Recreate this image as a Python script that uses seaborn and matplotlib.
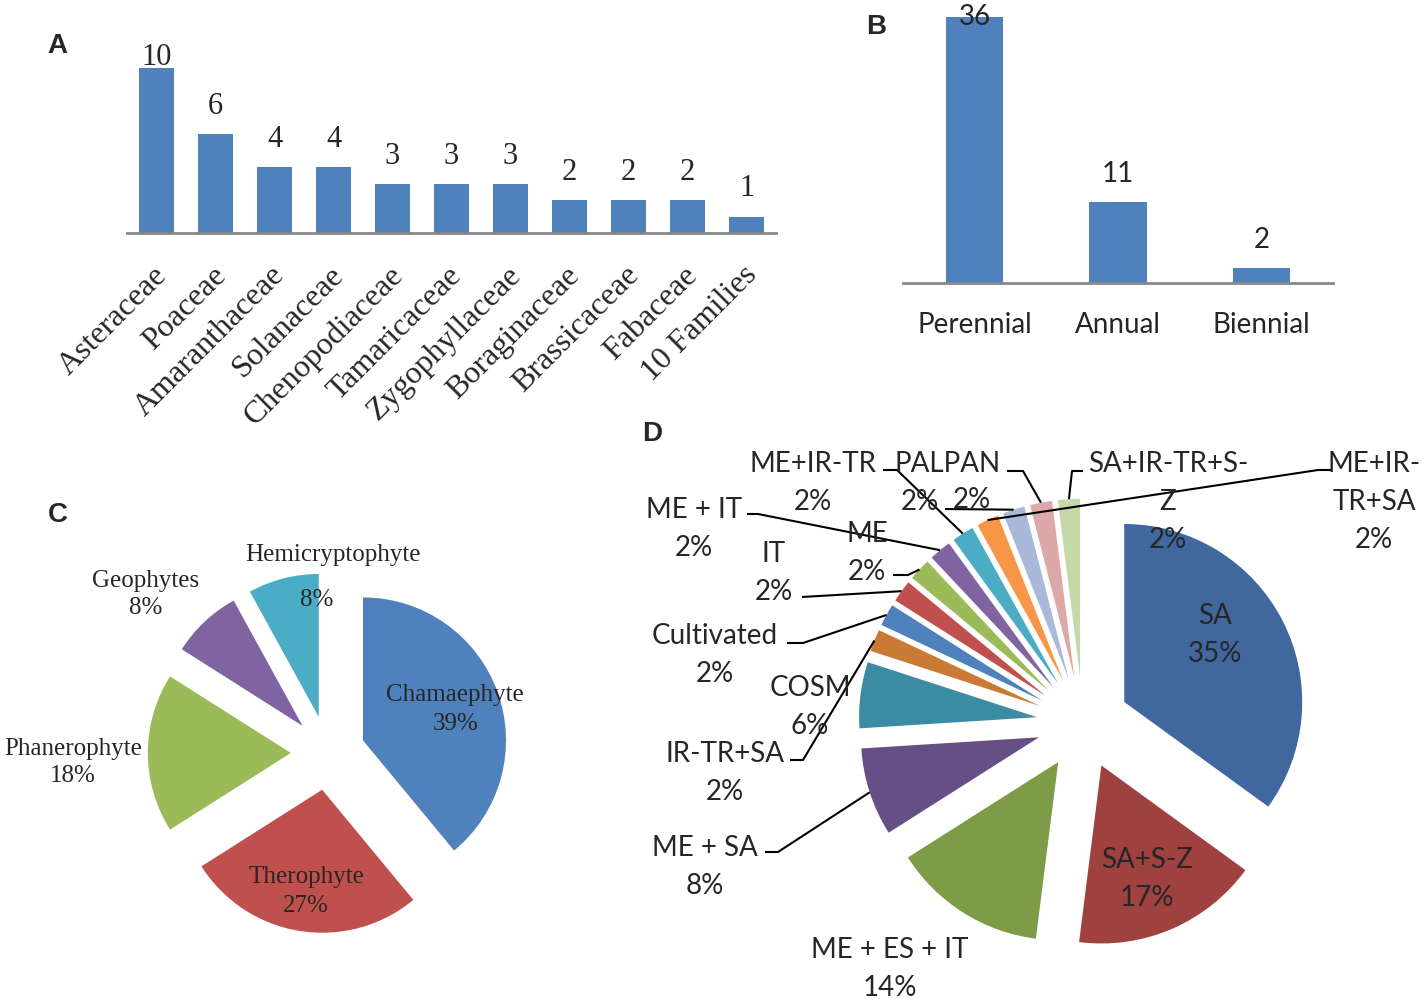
import numpy as np
import matplotlib
matplotlib.use('Agg')
import matplotlib.pyplot as plt
import seaborn as sns

sns.set_style('white')
plt.rcParams['font.family'] = ['Lato', 'DejaVu Sans']

SERIF = ['Liberation Serif', 'DejaVu Serif']
BOLD = ['Liberation Sans', 'DejaVu Sans']
BLUE = '#4F81BD'
AXIS_GREY = '#888888'

# ---- data ----
families = ['Asteraceae', 'Poaceae', 'Amaranthaceae', 'Solanaceae', 'Chenopodiaceae',
            'Tamaricaceae', 'Zygophyllaceae', 'Boraginaceae', 'Brassicaceae', 'Fabaceae',
            '10 Families']
family_counts = [10, 6, 4, 4, 3, 3, 3, 2, 2, 2, 1]

durations = ['Perennial', 'Annual', 'Biennial']
duration_counts = [36, 11, 2]

life_forms = ['Chamaephyte', 'Therophyte', 'Phanerophyte', 'Geophytes', 'Hemicryptophyte']
life_pct = [39, 27, 18, 8, 8]
life_colors = ['#4F81BD', '#C0504D', '#9BBB59', '#8064A2', '#4BACC6']

chorotypes = ['SA', 'SA+S-Z', 'ME + ES + IT', 'ME + SA', 'COSM', 'IR-TR+SA', 'Cultivated',
              'IT', 'ME', 'ME + IT', 'ME+IR-TR', 'ME+IR-TR+SA', '', 'PALPAN', 'SA+IR-TR+S-Z']
chorotype_pct = [35, 17, 14, 8, 6, 2, 2, 2, 2, 2, 2, 2, 2, 2, 2]
chorotype_colors = ['#40689E', '#9E413F', '#7E9B48', '#664F85', '#3B8CA2', '#CB7A36',
                    '#4F81BD', '#C0504D', '#9BBB59', '#8064A2', '#4BACC6', '#F79646',
                    '#A9B9DA', '#DDA9A8', '#C6D7A8']
chorotype_wrap = {'ME+IR-TR+SA': 'ME+IR-\nTR+SA', 'SA+IR-TR+S-Z': 'SA+IR-TR+S-\nZ'}

# ---- layout (pixels of the 1422x999 figure) ----
W, H = 1422, 999
fig = plt.figure(figsize=(W / 100, H / 100), dpi=100)


def rect(left, top, width, height):
    return [left / W, 1 - (top + height) / H, width / W, height / H]


def fxy(px, py):
    return px / W, 1 - py / H


def style_bar_axis(ax):
    sns.despine(ax=ax, left=True)
    ax.spines['bottom'].set_color(AXIS_GREY)
    ax.spines['bottom'].set_linewidth(2)
    ax.set_yticks([])
    ax.set_xlabel('')
    ax.set_ylabel('')
    ax.tick_params(axis='x', length=0)
    ax.patch.set_alpha(0)


def bar_values(ax, vals, ppu, ymax, **kw):
    for i, v in enumerate(vals):
        y = min(v + 20 / ppu, ymax - 20 / ppu)
        ax.text(i, y, str(v), ha='center', va='baseline', **kw)


# ---- A ----
ppuA = 16.5
axA = fig.add_axes(rect(127, 45, 649, 188))
sns.barplot(x=families, y=family_counts, color=BLUE, saturation=1, width=0.6,
            linewidth=0, errorbar=None, ax=axA)
axA.set_ylim(0, 188 / ppuA)
style_bar_axis(axA)
axA.set_xticks([])
bar_values(axA, family_counts, ppuA, 188 / ppuA, family=SERIF, fontsize=22)
for i, name in enumerate(families):
    axA.annotate(name, xy=(i, 0), xytext=(-3, -20), textcoords='offset points',
                 rotation=45, rotation_mode='anchor', ha='right', va='top',
                 family=SERIF, fontsize=23)

# ---- B ----
ppuB = 7.39
axB = fig.add_axes(rect(903, 5, 430, 278))
sns.barplot(x=durations, y=duration_counts, color=BLUE, saturation=1, width=0.4,
            linewidth=0, errorbar=None, ax=axB)
axB.set_ylim(0, 278 / ppuB)
style_bar_axis(axB)
axB.tick_params(axis='x', pad=21, labelsize=20)
bar_values(axB, duration_counts, ppuB, 278 / ppuB, fontsize=20)

# ---- C ----
CCX, CCY, CR = 328, 753, 143
axC = fig.add_axes(rect(CCX - 200, CCY - 200, 400, 400))
axC.pie(life_pct, colors=life_colors, startangle=90, counterclock=False,
        explode=[0.26] * len(life_pct), wedgeprops=dict(linewidth=0))
limC = 200 / CR
axC.set_xlim(-limC, limC)
axC.set_ylim(-limC, limC)

c_labels = {
    'Chamaephyte': ((455, 693), (456, 721)),
    'Therophyte': ((306, 875), (306, 903)),
    'Phanerophyte': ((73, 746), (73, 774)),
    'Geophytes': ((146, 578), (146, 606)),
    'Hemicryptophyte': ((333, 553), (317, 597)),
}
for name, p in zip(life_forms, life_pct):
    npos, ppos = c_labels[name]
    fig.text(*fxy(*npos), name, ha='center', va='center_baseline', family=SERIF, fontsize=18)
    fig.text(*fxy(*ppos), f'{p}%', ha='center', va='center_baseline', family=SERIF, fontsize=18)

# ---- D ----
DCX, DCY, DR = 1083, 723, 178
axD = fig.add_axes(rect(DCX - 250, DCY - 250, 500, 500))
wedges, _ = axD.pie(chorotype_pct, colors=chorotype_colors, startangle=90, counterclock=False,
                    explode=[0.26] * len(chorotype_pct), wedgeprops=dict(linewidth=0))
limD = 250 / DR
axD.set_xlim(-limD, limD)
axD.set_ylim(-limD, limD)


def to_d(px, py):
    return (px - DCX) / DR, (DCY - py) / DR


def wedge_tip(w):
    t = np.deg2rad(0.5 * (w.theta1 + w.theta2))
    return w.center[0] + w.r * np.cos(t), w.center[1] + w.r * np.sin(t)


d_labels = {
    'SA': dict(xy=(1215, 613)),
    'SA+S-Z': dict(xy=(1147, 858)),
    'ME + ES + IT': dict(xy=(890, 948)),
    'ME + SA': dict(xy=(705, 845), leader=[(765, 852), (778, 852)]),
    'COSM': dict(xy=(810, 686)),
    'IR-TR+SA': dict(xy=(725, 752), leader=[(790, 760), (803, 760)]),
    'Cultivated': dict(xy=(715, 633), leader=[(787, 643), (803, 643)]),
    'IT': dict(xy=(774, 551), leader=[(802, 597)]),
    'ME': dict(xy=(867, 531), leader=[(893, 575), (908, 575)]),
    'ME + IT': dict(xy=(694, 507), leader=[(747, 514), (758, 514)]),
    'ME+IR-TR': dict(xy=(813, 462), leader=[(883, 470), (897, 470)]),
    'ME+IR-TR+SA': dict(xy=(1374, 462), leader=[(1331, 470), (1318, 470)]),
    '': dict(xy=(972, 498), leader=[(945, 509)]),
    'PALPAN': dict(xy=(948, 461), pct_dx=-28, leader=[(1007, 471), (1023, 471)]),
    'SA+IR-TR+S-Z': dict(xy=(1168, 462), leader=[(1083, 471), (1072, 471)]),
}
PITCH = 38
for w, name, p in zip(wedges, chorotypes, chorotype_pct):
    lay = d_labels[name]
    x0, y0 = lay['xy']
    lines = chorotype_wrap.get(name, name).split('\n') if name else []
    for j, line in enumerate(lines):
        axD.text(*to_d(x0, y0 + PITCH * j), line, ha='center', va='center_baseline',
                 fontsize=20, clip_on=False)
    axD.text(*to_d(x0 + lay.get('pct_dx', 0), y0 + PITCH * len(lines)), f'{p}%',
             ha='center', va='center_baseline', fontsize=20, clip_on=False)
    if 'leader' in lay:
        pts = [to_d(*q) for q in lay['leader']] + [wedge_tip(w)]
        xs, ys = zip(*pts)
        axD.plot(xs, ys, color='black', lw=1.5, clip_on=False, solid_capstyle='butt')

# ---- panel letters ----
for letter, pos in zip('ABCD', [(57, 43), (876, 24), (58, 512), (652, 431)]):
    fig.text(*fxy(*pos), letter, ha='center', va='center_baseline', weight='bold',
             family=BOLD, fontsize=20)

fig.savefig('out.png', dpi=100)
